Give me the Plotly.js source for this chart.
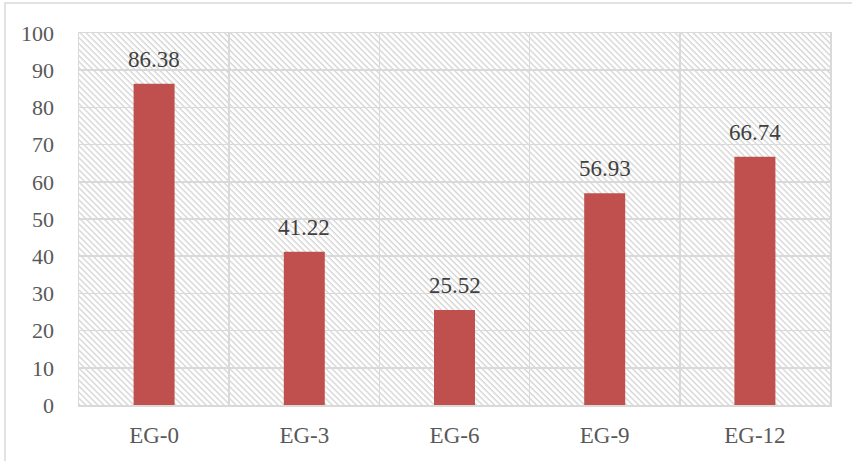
<!DOCTYPE html>
<html>
<head>
<meta charset="utf-8">
<script src="https://cdn.plot.ly/plotly-3.0.1.min.js"></script>
<style>html,body{margin:0;padding:0;background:#fff;}#chart{width:852px;height:461px;}</style>
</head>
<body>
<div id="chart"></div>
<script>
const categories = ["EG-0", "EG-3", "EG-6", "EG-9", "EG-12"];
const values = [86.38, 41.22, 25.52, 56.93, 66.74];
const valueLabels = ["86.38", "41.22", "25.52", "56.93", "66.74"];
const yTicks = [0, 10, 20, 30, 40, 50, 60, 70, 80, 90, 100];

const W = 852, H = 461;
const M = {l: 79, r: 22, t: 33, b: 56};
const pw = W - M.l - M.r, ph = H - M.t - M.b;

const svg = '<svg xmlns="http://www.w3.org/2000/svg" width="' + pw + '" height="' + ph + '">' +
  '<defs><pattern id="p" patternUnits="userSpaceOnUse" width="4.25" height="10" patternTransform="rotate(-45)">' +
  '<line x1="1" y1="-2" x2="1" y2="12" stroke="#d2d2d2" stroke-width="1.3"/></pattern></defs>' +
  '<rect width="100%" height="100%" fill="url(#p)"/></svg>';
const hatch = 'data:image/svg+xml;charset=utf-8,' + encodeURIComponent(svg);

const font = "Liberation Serif, Times New Roman, serif";

const trace = {
  type: 'bar',
  x: categories,
  y: values,
  marker: {color: '#c0504d'},
  hoverinfo: 'skip'
};

const annotations = categories.map((c, i) => ({
  x: c, y: values[i], xref: 'x', yref: 'y',
  text: valueLabels[i], showarrow: false,
  yanchor: 'bottom', yshift: 10,
  font: {family: font, size: 23, color: '#404040'}
}));

const layout = {
  width: W, height: H,
  margin: M,
  font: {family: font},
  paper_bgcolor: '#ffffff',
  plot_bgcolor: 'rgba(0,0,0,0)',
  showlegend: false,
  bargap: 0.727,
  xaxis: {
    type: 'category',
    tickson: 'boundaries',
    showgrid: true, gridcolor: '#d9d9d9', gridwidth: 1.5,
    showline: true, linecolor: '#d9d9d9', linewidth: 1.5, mirror: true,
    ticks: '', ticklabelstandoff: 9,
    tickfont: {family: font, size: 23, color: '#595959'},
    zeroline: false
  },
  yaxis: {
    range: [0, 100],
    tickvals: yTicks,
    ticktext: yTicks.map(String),
    showgrid: true, gridcolor: '#d9d9d9', gridwidth: 1.5,
    showline: true, linecolor: '#d9d9d9', linewidth: 1.5, mirror: true,
    ticks: '', ticklabelstandoff: 19,
    tickfont: {family: font, size: 22, color: '#595959'},
    zeroline: false
  },
  images: [{
    source: hatch, xref: 'paper', yref: 'paper',
    x: 0, y: 1, sizex: 1, sizey: 1, sizing: 'stretch',
    xanchor: 'left', yanchor: 'top', layer: 'below'
  }],
  shapes: [{
    type: 'rect', xref: 'paper', yref: 'paper',
    x0: (5 - M.l) / pw, x1: 1.2,
    y0: -0.4, y1: (H - M.b - 3) / ph,
    line: {color: '#d9d9d9', width: 1.5}, fillcolor: 'rgba(0,0,0,0)', layer: 'below'
  }],
  annotations: annotations
};

Plotly.newPlot('chart', [trace], layout, {displayModeBar: false, staticPlot: true});
</script>
</body>
</html>
